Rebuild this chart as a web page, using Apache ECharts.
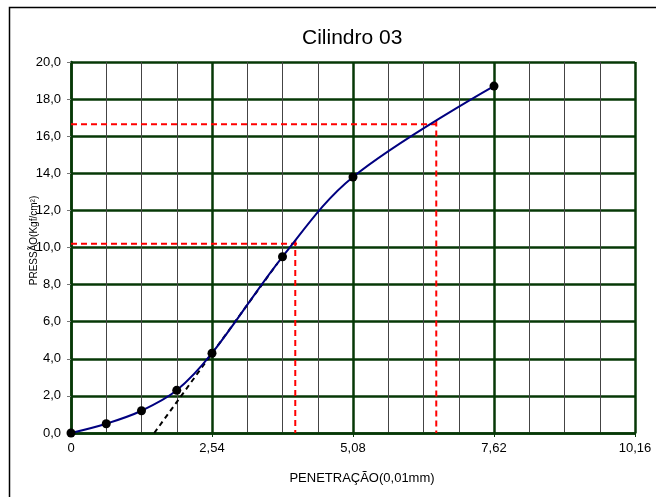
<!DOCTYPE html>
<html>
<head>
<meta charset="utf-8">
<script src="https://cdn.jsdelivr.net/npm/echarts@6/dist/echarts.min.js"></script>
<style>
  html, body { margin: 0; padding: 0; background: #fff; }
  #chart { width: 656px; height: 497px; }
</style>
</head>
<body>
<div id="chart"></div>
<script>
// Penetration (0,01 mm) and pressure (kgf/cm²) readings
const penetration = [0, 0.635, 1.27, 1.905, 2.54, 3.81, 5.08, 7.62];
const pressure = [0, 0.5, 1.2, 2.3, 4.3, 9.5, 13.8, 18.7];

// Corrected origin (tangent crossing the x axis) and corrected readings
const tangentFrom = [1.5, 0];
const tangentTo = [3.72, 9.15];
const corrected254 = [4.04, 10.2];
const corrected508 = [6.58, 16.65];

const xTicks = [0, 2.54, 5.08, 7.62, 10.16];
const yMax = 20;

const green = '#063806';
const fmtComma = (v, d) => v.toFixed(d).replace('.', ',');

// Dashed guide: horizontal from the y axis, vertical down to the x axis, small cross overshoot
function guide(pt) {
  const ox = 0.07, oy = 0.2;
  return [
    [0, pt[1]], [pt[0] + ox, pt[1]], [NaN, NaN],
    [pt[0], pt[1] + oy], [pt[0], 0]
  ];
}

const chart = echarts.init(document.getElementById('chart'));
chart.setOption({
  animation: false,
  textStyle: { fontFamily: 'Liberation Sans, Arial, sans-serif' },
  title: {
    text: 'Cilindro 03',
    left: 297, top: 23,
    textStyle: { fontSize: 21, fontWeight: 'normal', color: '#000' }
  },
  graphic: [{
    type: 'rect',
    shape: { x: 9.5, y: 7.5, width: 700, height: 600 },
    style: { fill: 'none', stroke: '#000', lineWidth: 1.5 },
    silent: true
  }],
  grid: { left: 71, right: 21, top: 62, bottom: 64 },
  xAxis: {
    type: 'value', min: 0, max: 10.16, interval: 2.54,
    name: 'PENETRAÇÃO(0,01mm)', nameLocation: 'middle', nameGap: 39,
    nameTextStyle: { fontSize: 13, color: '#000', padding: [0, 0, 0, 18] },
    axisLine: { lineStyle: { color: green, width: 2.5 } },
    axisTick: { show: true, length: 4, lineStyle: { color: green, width: 1 } },
    axisLabel: {
      fontSize: 13, color: '#000', margin: 9,
      formatter: v => {
        const t = xTicks.find(t => Math.abs(t - v) < 1e-6);
        if (t === undefined) return '';
        return t === 0 ? '0' : fmtComma(t, 2);
      }
    },
    splitLine: { show: true, lineStyle: { color: green, width: 2.5 } },
    minorTick: { show: false, splitNumber: 4 },
    minorSplitLine: { show: true, lineStyle: { color: '#444', width: 1 } }
  },
  yAxis: {
    type: 'value', min: 0, max: yMax, interval: 2,
    name: 'PRESSÃO(Kgf/cm²)', nameLocation: 'middle', nameGap: 32,
    nameMoveOverlap: false,
    nameTextStyle: { fontSize: 10, color: '#000', padding: [0, 0, 0, 14] },
    axisLine: { show: true, lineStyle: { color: green, width: 2.5 } },
    axisTick: { show: true, length: 4, lineStyle: { color: '#777', width: 1 } },
    axisLabel: { fontSize: 13, color: '#000', margin: 10, formatter: v => fmtComma(v, 1) },
    splitLine: { show: true, lineStyle: { color: green, width: 2.5 } }
  },
  series: [
    {
      name: 'guide254', type: 'line', data: guide(corrected254),
      symbol: 'none', connectNulls: false, z: 3,
      lineStyle: { color: '#ff0000', width: 2, type: [6, 4] }
    },
    {
      name: 'guide508', type: 'line', data: guide(corrected508),
      symbol: 'none', connectNulls: false, z: 3,
      lineStyle: { color: '#ff0000', width: 2, type: [6, 4] }
    },
    {
      name: 'tangent', type: 'line', data: [tangentFrom, tangentTo],
      symbol: 'none', z: 3,
      lineStyle: { color: '#000', width: 2, type: [5, 4] }
    },
    {
      name: 'pressure', type: 'line',
      data: penetration.map((x, i) => [x, pressure[i]]),
      smooth: 0.35, z: 4,
      symbol: 'circle', symbolSize: 9,
      itemStyle: { color: '#000', borderWidth: 0 },
      lineStyle: { color: '#000080', width: 2 }
    }
  ]
});
</script>
</body>
</html>
